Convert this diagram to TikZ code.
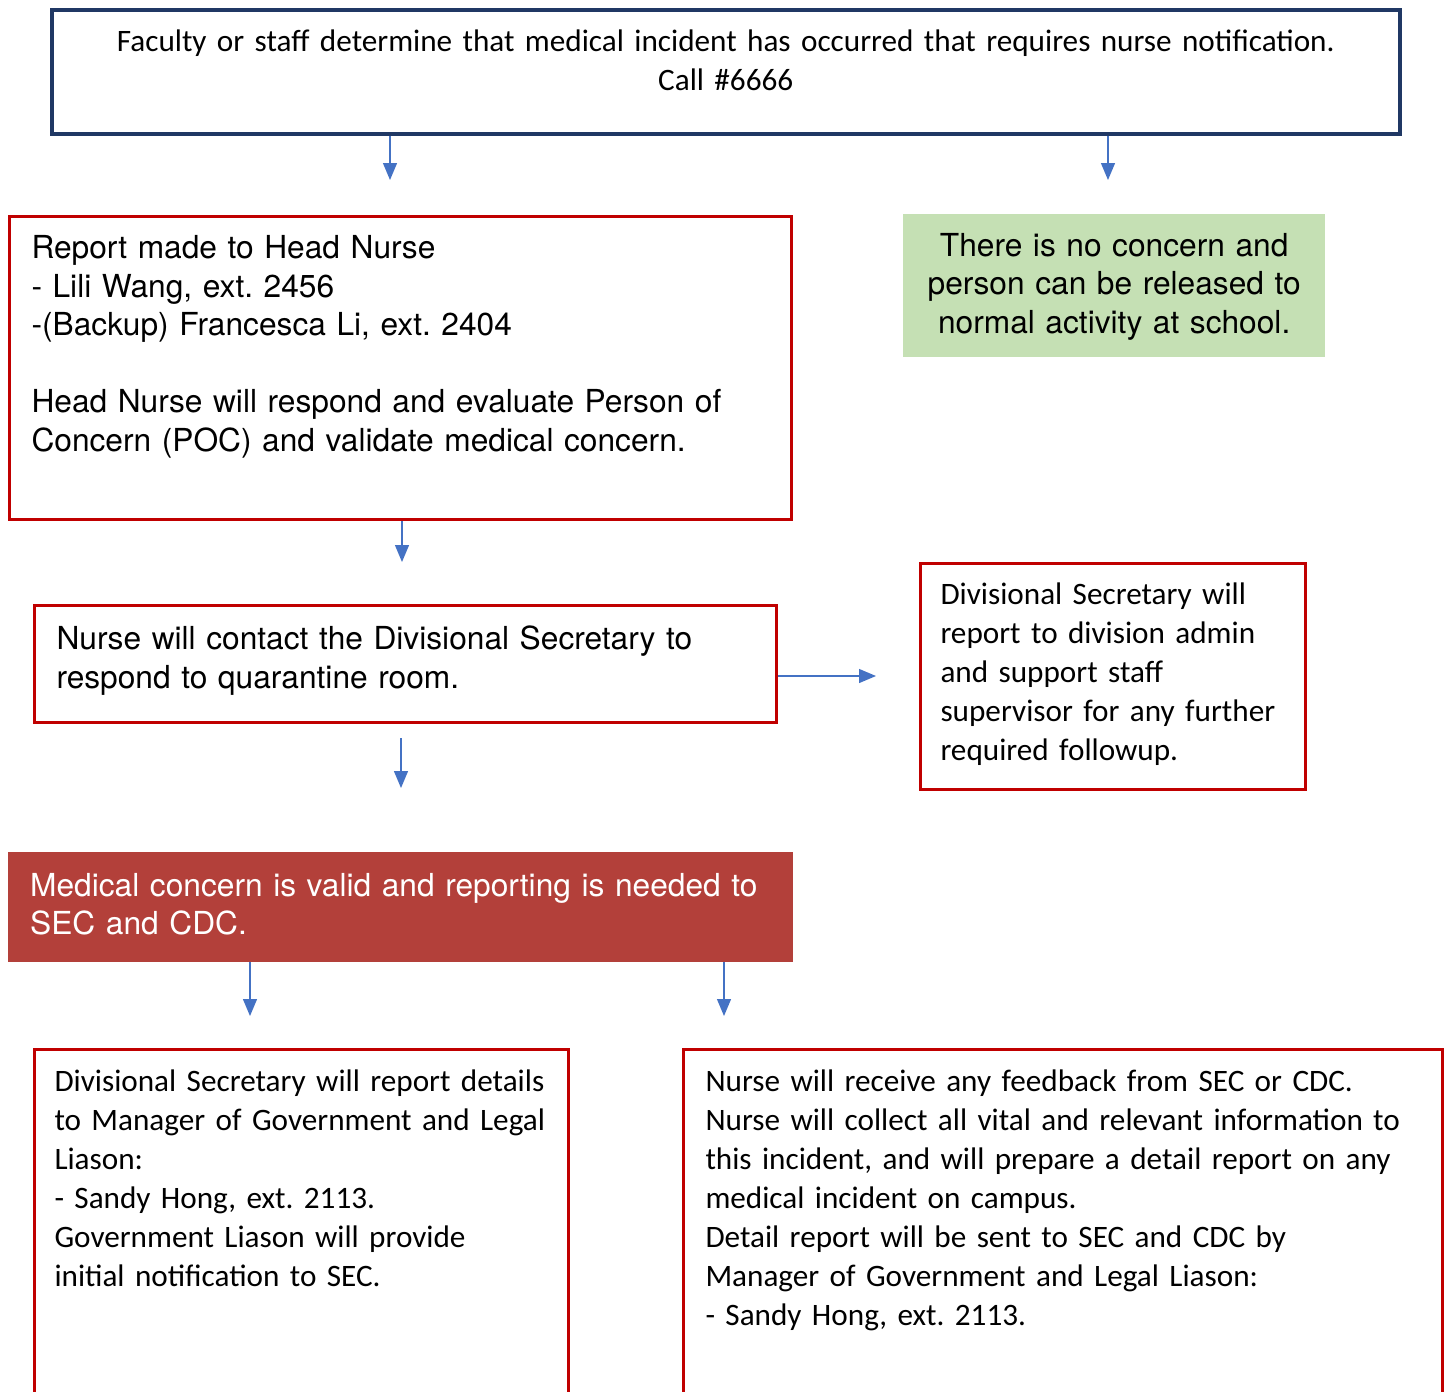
\documentclass[tikz,border=0pt]{standalone}
\usepackage{fontspec}
\setmainfont{Carlito}
\newfontfamily\helv{TeX Gyre Heros}
\usetikzlibrary{arrows.meta}
\definecolor{navy}{HTML}{203864}
\definecolor{alertred}{HTML}{C00000}
\definecolor{flowblue}{HTML}{4472C4}
\definecolor{okgreen}{HTML}{C5E0B4}
\definecolor{validred}{HTML}{B3403A}
\frenchspacing
\tikzset{
  calib/.style={font=\fontsize{31.2}{39}\selectfont},
  helvt/.style={font=\helv\fontsize{31.7}{38.5}\selectfont},
  stepbox/.style={anchor=north west, align=left, inner xsep=22pt, inner ysep=0pt},
  redbox/.style={stepbox, draw=alertred, line width=3pt},
  flow/.style={draw=flowblue, line width=1.3pt, -{Triangle[width=14pt,length=17pt]}}
}
\begin{document}
\begin{tikzpicture}[x=1pt,y=-1pt]
  \useasboundingbox (0,0) rectangle (1449,1392);
  \clip (0,0) rectangle (1449,1392);
  % boxes
  \node[stepbox, calib, draw=navy, line width=3.5pt, align=center, text width=1304pt,
        text height=42pt, text depth=82pt] (call) at (50,8)
    {Faculty or staff determine that medical incident has occurred that requires nurse notification.\\Call \#6666};
  \node[redbox, helvt, text width=738pt, text height=42pt, text depth=261pt] (head) at (8,215)
    {Report made to Head Nurse\\- Lili Wang, ext. 2456\\-(Backup) Francesca Li, ext. 2404\\[38.5pt]
     Head Nurse will respond and evaluate Person of\\Concern (POC) and validate medical concern.};
  \node[stepbox, helvt, fill=okgreen, align=center, inner xsep=0pt, text width=422pt,
        text height=42pt, text depth=101pt] (clear) at (903,214)
    {There is no concern and\\person can be released to\\normal activity at school.};
  \node[redbox, helvt, text width=698pt, text height=44pt, text depth=73pt] (contact) at (33,604)
    {Nurse will contact the Divisional Secretary to\\respond to quarantine room.};
  \node[redbox, calib, inner xsep=20pt, text width=345pt, text height=41pt, text depth=185pt] (admin) at (919,562)
    {Divisional Secretary will\\report to division admin\\and support staff\\supervisor for any further\\required followup.};
  \node[stepbox, helvt, fill=validred, text=white, text width=741pt,
        text height=44pt, text depth=66pt] (valid) at (8,852)
    {Medical concern is valid and reporting is needed to\\SEC and CDC.};
  \node[redbox, calib, inner xsep=20pt, text width=494pt, text height=42pt, text depth=400pt] (liason) at (33,1048)
    {Divisional Secretary will report details\\to Manager of Government and Legal\\Liason:\\- Sandy Hong, ext. 2113.\\
     Government Liason will provide\\initial notification to SEC.};
  \node[redbox, calib, text width=715pt, text height=42pt, text depth=400pt] (report) at (682,1048)
    {Nurse will receive any feedback from SEC or CDC.\\Nurse will collect all vital and relevant information to\\
     this incident, and will prepare a detail report on any\\medical incident on campus.\\
     Detail report will be sent to SEC and CDC by\\Manager of Government and Legal Liason:\\- Sandy Hong, ext. 2113.};
  % arrow ends
  \coordinate (t1) at (390,180);
  \coordinate (t2) at (1108,180);
  \coordinate (t3) at (402,562);
  \coordinate (t4) at (876,676);
  \coordinate (s5) at (401,738);
  \coordinate (t5) at (401,788);
  \coordinate (t6) at (250,1016);
  \coordinate (t7) at (724,1016);
  % arrows
  \draw[flow] (call.south -| t1) -- (t1);
  \draw[flow] (call.south -| t2) -- (t2);
  \draw[flow] (head.south -| t3) -- (t3);
  \draw[flow] (contact.east |- t4) -- (t4);
  \draw[flow] (s5) -- (t5);
  \draw[flow] (valid.south -| t6) -- (t6);
  \draw[flow] (valid.south -| t7) -- (t7);
\end{tikzpicture}
\end{document}
